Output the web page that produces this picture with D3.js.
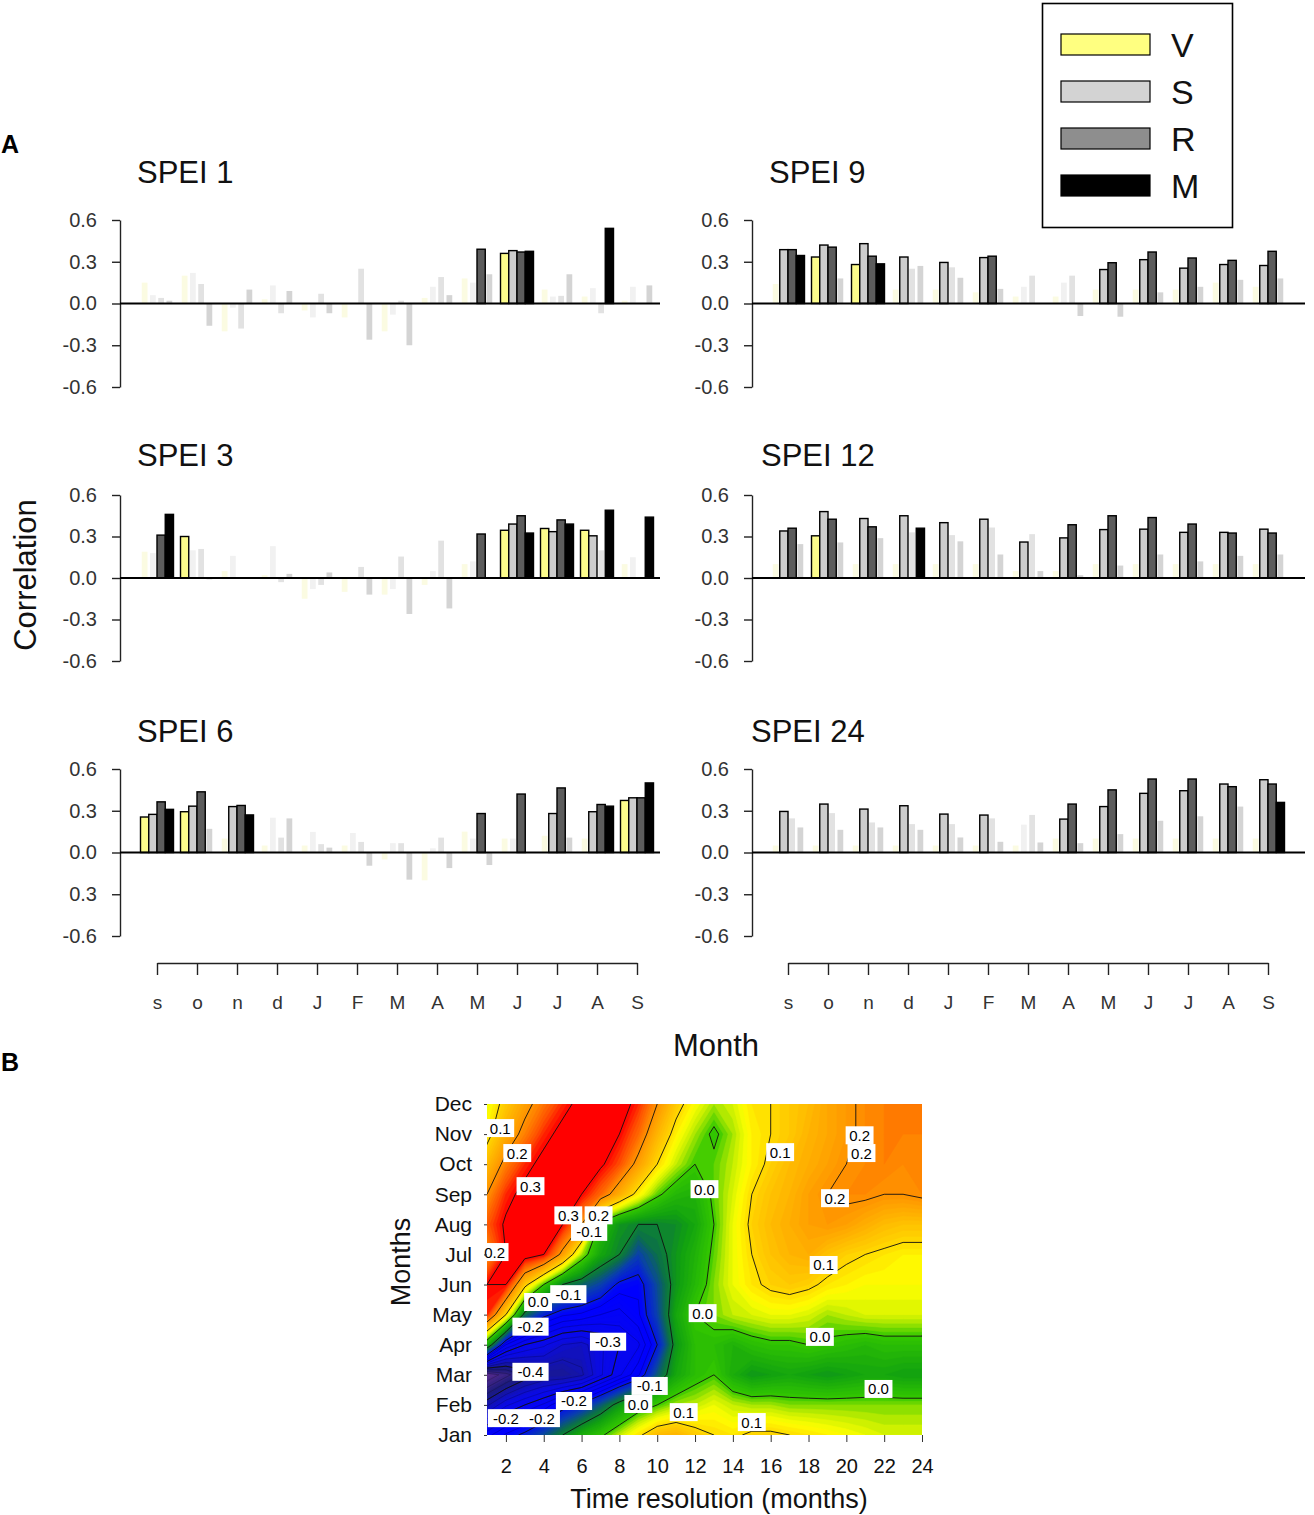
<!DOCTYPE html>
<html><head><meta charset="utf-8"><title>SPEI correlations</title>
<script src="https://cdn.jsdelivr.net/npm/d3@7"></script>
<style>
  body { margin: 0; background: #fff; }
  svg { font-family: 'Liberation Sans', Arial, Helvetica, sans-serif; }
</style>
</head>
<body>
<svg id="chart" width="1314" height="1515"></svg>
<script>
// ---- panel A data: correlation per month for V, S, R, M; sig = "1" drawn solid
const months = ["s","o","n","d","J","F","M","A","M","J","J","A","S"];
const seriesNames = ["V","S","R","M"];
const yTicks = [-0.6, -0.3, 0, 0.3, 0.6];
const yTickLabels = ["-0.6","-0.3","0.0","0.3","0.6"];
const yTickLabels6 = ["-0.6","0.3","0.0","0.3","0.6"];

const spei1V = [0.15, 0.2, -0.2, 0.03, -0.05, -0.1, -0.2, 0.04, 0.18, 0.36, 0.1, 0.05, 0.02];
const spei1S = [0.06, 0.22, -0.03, 0.13, -0.1, 0.0, -0.08, 0.12, 0.15, 0.38, 0.05, 0.11, 0.12];
const spei1R = [0.04, 0.14, -0.18, -0.07, 0.07, 0.25, 0.02, 0.19, 0.39, 0.37, 0.055, -0.07, 0.0];
const spei1M = [0.02, -0.16, 0.1, 0.09, -0.07, -0.26, -0.3, 0.06, 0.21, 0.375, 0.21, 0.54, 0.13];
const spei1Sig = ["0000000001000", "0000000001000", "0000000011000", "0000000001010"];

const spei3V = [0.19, 0.3, 0.05, 0.02, -0.15, -0.1, -0.12, -0.05, 0.1, 0.345, 0.358, 0.345, 0.1];
const spei3S = [0.18, 0.2, 0.16, 0.23, -0.08, 0.0, -0.08, 0.05, 0.12, 0.39, 0.335, 0.305, 0.15];
const spei3R = [0.31, 0.21, 0.0, -0.03, -0.05, 0.08, 0.155, 0.27, 0.318, 0.45, 0.42, 0.2, 0.0];
const spei3M = [0.46, -0.01, 0.0, 0.03, 0.04, -0.12, -0.26, -0.22, 0.0, 0.325, 0.39, 0.49, 0.44];
const spei3Sig = ["0100000001110", "0000000001110", "1000000011100", "1000000001111"];

const spei6V = [0.255, 0.293, 0.1, 0.05, 0.05, 0.05, -0.05, -0.2, 0.15, 0.1, 0.12, 0.1, 0.374];
const spei6S = [0.274, 0.333, 0.33, 0.25, 0.148, 0.14, 0.067, 0.03, 0.1, 0.1, 0.28, 0.293, 0.393];
const spei6R = [0.364, 0.436, 0.338, 0.107, 0.06, 0.076, 0.067, 0.107, 0.28, 0.42, 0.464, 0.345, 0.393];
const spei6M = [0.31, 0.17, 0.27, 0.245, 0.035, -0.095, -0.195, -0.112, -0.09, 0.0, 0.107, 0.333, 0.5];
const spei6Sig = ["1100000000001", "1110000000111", "1110000011111", "1010000000011"];

const spei9V = [0.14, 0.334, 0.28, 0.1, 0.1, 0.08, 0.05, 0.05, 0.1, 0.1, 0.1, 0.15, 0.12];
const spei9S = [0.387, 0.42, 0.43, 0.334, 0.295, 0.33, 0.12, 0.15, 0.244, 0.315, 0.254, 0.28, 0.273];
const spei9R = [0.387, 0.405, 0.34, 0.25, 0.26, 0.34, 0.2, 0.2, 0.293, 0.37, 0.327, 0.31, 0.375];
const spei9M = [0.345, 0.18, 0.285, 0.27, 0.185, 0.105, 0.0, -0.09, -0.095, 0.08, 0.12, 0.17, 0.18];
const spei9Sig = ["0110000000000", "1111110011111", "1110010011111", "1010000000000"];

const spei12V = [0.1, 0.305, 0.1, 0.1, 0.1, 0.1, 0.05, 0.05, 0.1, 0.1, 0.1, 0.1, 0.1];
const spei12S = [0.34, 0.48, 0.43, 0.45, 0.4, 0.425, 0.26, 0.29, 0.35, 0.353, 0.33, 0.33, 0.353];
const spei12R = [0.36, 0.425, 0.37, 0.33, 0.31, 0.365, 0.317, 0.385, 0.45, 0.437, 0.39, 0.325, 0.325];
const spei12M = [0.245, 0.257, 0.288, 0.36, 0.265, 0.17, 0.05, 0.02, 0.09, 0.17, 0.12, 0.16, 0.17];
const spei12Sig = ["0100000000000", "1111111111111", "1110000111111", "0001000000000"];

const spei24V = [0.05, 0.05, 0.05, 0.05, 0.05, 0.05, 0.05, 0.1, 0.1, 0.1, 0.1, 0.1, 0.1];
const spei24S = [0.295, 0.348, 0.312, 0.336, 0.276, 0.269, 0.2, 0.24, 0.33, 0.425, 0.444, 0.492, 0.523];
const spei24R = [0.245, 0.283, 0.216, 0.204, 0.204, 0.245, 0.27, 0.348, 0.45, 0.528, 0.528, 0.473, 0.492];
const spei24M = [0.18, 0.163, 0.18, 0.163, 0.108, 0.077, 0.072, 0.067, 0.132, 0.228, 0.26, 0.33, 0.36];
const spei24Sig = ["0000000000000", "1111110111111", "0000000111111", "0000000000001"];

// ---- panel B data: correlation by month (rows Jan..Dec) and time resolution 1..24
const monthNames = ["Jan","Feb","Mar","Apr","May","Jun","Jul","Aug","Sep","Oct","Nov","Dec"];
const resTicks = [2,4,6,8,10,12,14,16,18,20,22,24];
const gridJan = [-0.26,-0.22,-0.19,-0.15,-0.1,-0.05,-0.01,0.04,0.09,0.14,0.15,0.12,0.1,0.09,0.11,0.11,0.1,0.09,0.08,0.07,0.06,0.05,0.05,0.05];
const gridFeb = [-0.38,-0.33,-0.3,-0.27,-0.22,-0.19,-0.14,-0.08,-0.03,0.0,0.03,0.04,0.06,0.04,0.03,0.03,0.02,0.02,0.02,0.02,0.02,0.02,0.02,0.02];
const gridMar = [-0.5,-0.46,-0.42,-0.4,-0.4,-0.38,-0.33,-0.28,-0.23,-0.14,-0.06,-0.02,0.0,-0.05,-0.08,-0.07,-0.06,-0.07,-0.08,-0.07,-0.06,-0.06,-0.07,-0.07];
const gridApr = [-0.05,-0.25,-0.3,-0.32,-0.35,-0.36,-0.33,-0.3,-0.28,-0.2,-0.08,-0.02,-0.02,-0.04,-0.02,-0.01,-0.01,0.0,-0.01,-0.02,-0.03,-0.02,-0.02,-0.02];
const gridMay = [0.28,0.1,-0.12,-0.19,-0.22,-0.23,-0.25,-0.26,-0.23,-0.16,-0.06,0.0,0.02,0.04,0.05,0.06,0.06,0.05,0.03,0.04,0.05,0.05,0.05,0.05];
const gridJun = [0.3,0.3,0.12,0.0,-0.1,-0.13,-0.16,-0.21,-0.22,-0.15,-0.08,-0.03,0.02,0.06,0.09,0.11,0.12,0.11,0.09,0.08,0.07,0.07,0.07,0.07];
const gridJul = [0.2,0.3,0.33,0.3,0.18,0.03,-0.06,-0.1,-0.16,-0.12,-0.08,-0.04,0.01,0.06,0.1,0.13,0.15,0.16,0.13,0.11,0.1,0.09,0.08,0.08];
const gridAug = [0.25,0.31,0.34,0.33,0.3,0.2,-0.02,-0.08,-0.1,-0.1,-0.09,-0.06,0.0,0.06,0.11,0.14,0.16,0.18,0.19,0.18,0.16,0.14,0.13,0.13];
const gridSep = [0.2,0.28,0.32,0.34,0.34,0.3,0.24,0.16,0.08,0.01,-0.03,-0.04,0.01,0.05,0.1,0.13,0.15,0.18,0.2,0.21,0.21,0.2,0.2,0.21];
const gridOct = [0.14,0.22,0.28,0.32,0.34,0.34,0.31,0.26,0.18,0.1,0.04,0.0,0.01,0.04,0.08,0.11,0.14,0.16,0.18,0.2,0.21,0.22,0.21,0.21];
const gridNov = [0.08,0.16,0.22,0.28,0.32,0.34,0.34,0.3,0.24,0.15,0.08,0.03,-0.01,0.03,0.08,0.1,0.12,0.15,0.17,0.19,0.21,0.22,0.22,0.22];
const gridDec = [0.06,0.12,0.18,0.23,0.28,0.32,0.34,0.33,0.28,0.2,0.12,0.07,0.03,0.05,0.09,0.1,0.12,0.14,0.17,0.19,0.21,0.22,0.23,0.23];

const labelRes   = [1.7, 2.6, 3.3, 6.4, 6.9, 5.3, 1.4, 3.7, 5.3, 3.3, 7.4, 3.3, 5.6, 2.0, 3.9, 9.6, 9.0, 11.4, 15.0, 12.5, 16.5, 20.7, 20.8, 19.4, 18.8, 12.4, 18.6, 21.7];
const labelMonth = [11.2, 10.37, 9.27, 7.75, 8.3, 8.3, 7.08, 5.42, 5.68, 4.6, 4.1, 3.1, 2.13, 1.56, 1.56, 2.63, 2.03, 1.76, 1.43, 9.17, 10.4, 10.96, 10.37, 8.87, 6.65, 5.05, 4.26, 2.53];
const labelText  = ["0.1","0.2","0.3","-0.1","0.2","0.3","0.2","0.0","-0.1","-0.2","-0.3","-0.4","-0.2","-0.2","-0.2","-0.1","0.0","0.1","0.1","0.0","0.1","0.2","0.2","0.2","0.1","0.0","0.0","0.0"];

// ---- styling
const solidColor = {V: "#fcfc8c", S: "#cdcdcd", R: "#5c5c5c", M: "#000000"};
const fadedColor = {V: "#fbfbe2", S: "#f1f1f1", R: "#e2e2e2", M: "#d4d4d4"};
const legendColor = {V: "#ffff80", S: "#d3d3d3", R: "#8e8e8e", M: "#000000"};

const svg = d3.select("#chart");

const panels = [
  {title: "SPEI 1", col: 0, row: 0, titleX: 137, vals: [spei1V, spei1S, spei1R, spei1M], sig: spei1Sig, labels: yTickLabels},
  {title: "SPEI 3", col: 0, row: 1, titleX: 137, vals: [spei3V, spei3S, spei3R, spei3M], sig: spei3Sig, labels: yTickLabels},
  {title: "SPEI 6", col: 0, row: 2, titleX: 137, vals: [spei6V, spei6S, spei6R, spei6M], sig: spei6Sig, labels: yTickLabels6},
  {title: "SPEI 9", col: 1, row: 0, titleX: 769, vals: [spei9V, spei9S, spei9R, spei9M], sig: spei9Sig, labels: yTickLabels},
  {title: "SPEI 12", col: 1, row: 1, titleX: 761, vals: [spei12V, spei12S, spei12R, spei12M], sig: spei12Sig, labels: yTickLabels},
  {title: "SPEI 24", col: 1, row: 2, titleX: 751, vals: [spei24V, spei24S, spei24R, spei24M], sig: spei24Sig, labels: yTickLabels}
];
const colLayout = [{axis: 120, band: 137, zeroEnd: 660}, {axis: 752, band: 768, zeroEnd: 1305}];
const rowLayout = [{top: 220, bottom: 387, titleY: 183}, {top: 495, bottom: 661, titleY: 466}, {top: 769, bottom: 936, titleY: 742}];

panels.forEach(p => {
  const c = colLayout[p.col], r = rowLayout[p.row];
  const g = svg.append("g");
  const x = d3.scaleBand().domain(d3.range(months.length))
    .range([c.band, c.band + 520]).paddingInner(0.175).paddingOuter(0.0875);
  const xs = d3.scaleBand().domain(seriesNames).range([0, x.bandwidth()]);
  const y = d3.scaleLinear().domain([-0.6, 0.6]).range([r.bottom, r.top]);

  g.append("text").attr("x", p.titleX).attr("y", r.titleY)
    .attr("font-size", 31).attr("fill", "#111").text(p.title);

  const ax = g.append("g").attr("transform", `translate(${c.axis},0)`)
    .call(d3.axisLeft(y).tickValues(yTicks).tickFormat((d, i) => p.labels[i])
      .tickSize(8).tickSizeOuter(0).tickPadding(15));
  ax.selectAll("path,line").attr("stroke", "#222").attr("stroke-width", 1.4);
  ax.selectAll("text").attr("font-size", 20).attr("fill", "#333")
    .attr("font-family", "'Liberation Sans', Arial, sans-serif");

  const bars = [];
  seriesNames.forEach((s, k) => {
    p.vals[k].forEach((v, i) => bars.push({s, i, v, sig: p.sig[k][i] === "1"}));
  });
  const bw = xs.bandwidth();
  // faded (non-significant) first, then solid on top
  g.selectAll("rect.faded").data(bars.filter(b => !b.sig)).join("rect")
    .attr("class", "faded")
    .attr("x", b => x(b.i) + xs(b.s) + bw * 0.15)
    .attr("width", bw * 0.7)
    .attr("y", b => y(Math.max(0, b.v)))
    .attr("height", b => Math.abs(y(b.v) - y(0)))
    .attr("fill", b => fadedColor[b.s]);
  g.selectAll("rect.solid").data(bars.filter(b => b.sig)).join("rect")
    .attr("class", "solid")
    .attr("x", b => x(b.i) + xs(b.s))
    .attr("width", bw)
    .attr("y", b => y(Math.max(0, b.v)))
    .attr("height", b => Math.abs(y(b.v) - y(0)))
    .attr("fill", b => solidColor[b.s])
    .attr("stroke", "#000").attr("stroke-width", 1.4);

  g.append("line").attr("x1", c.axis).attr("x2", c.zeroEnd)
    .attr("y1", y(0)).attr("y2", y(0)).attr("stroke", "#000").attr("stroke-width", 1.8);

  if (p.row === 2) {
    const xm = d3.scalePoint().domain(d3.range(months.length))
      .range([c.band + 20, c.band + 500]);
    const mx = g.append("g").attr("transform", "translate(0,963)")
      .call(d3.axisBottom(xm).tickFormat(i => months[i]).tickSize(12).tickSizeOuter(0).tickPadding(21));
    mx.selectAll("path,line").attr("stroke", "#222").attr("stroke-width", 1.4);
    mx.selectAll("text").attr("font-size", 19).attr("fill", "#333")
      .attr("font-family", "'Liberation Sans', Arial, sans-serif");
  }
});

// labels of panel A
svg.append("text").attr("x", 1).attr("y", 153).attr("font-size", 25).attr("font-weight", "bold").text("A");
svg.append("text").attr("transform", "translate(36,575) rotate(-90)").attr("text-anchor", "middle")
  .attr("font-size", 31).attr("fill", "#111").text("Correlation");
svg.append("text").attr("x", 716).attr("y", 1056).attr("text-anchor", "middle")
  .attr("font-size", 31).attr("fill", "#111").text("Month");

// legend
const lg = svg.append("g");
lg.append("rect").attr("x", 1042.5).attr("y", 3.5).attr("width", 190).attr("height", 224)
  .attr("fill", "#fff").attr("stroke", "#000").attr("stroke-width", 1.6);
seriesNames.forEach((s, k) => {
  lg.append("rect").attr("x", 1061).attr("y", 34 + k * 47).attr("width", 89).attr("height", 21)
    .attr("fill", legendColor[s]).attr("stroke", "#000").attr("stroke-width", 1.2);
  lg.append("text").attr("x", 1171).attr("y", 57 + k * 47).attr("font-size", 34).attr("fill", "#111").text(s);
});

// ---- panel B: filled contour
svg.append("text").attr("x", 1).attr("y", 1071).attr("font-size", 25).attr("font-weight", "bold").text("B");

const grid = [gridJan, gridFeb, gridMar, gridApr, gridMay, gridJun, gridJul, gridAug, gridSep, gridOct, gridNov, gridDec];
const nx = 24, ny = 12;
const values = grid.flat();
const cx = d3.scaleLinear().domain([1, 24]).range([487, 922]);
const cy = d3.scaleLinear().domain([1, 12]).range([1435, 1104]);
const proj = d3.geoTransform({point(px, py) { this.stream.point(cx(px + 0.5), cy(py + 0.5)); }});
const path = d3.geoPath(proj);

const cStops = [-0.5, -0.42, -0.33, -0.22, -0.16, -0.12, -0.07, 0, 0.04, 0.07, 0.11, 0.16, 0.21, 0.26, 0.3];
const cColors = ["#5b2c8e", "#1c1c7c", "#0a0ae6", "#0000ff", "#0a3fae", "#0b6e4a", "#10a010", "#33c800",
                 "#c4ee00", "#ffff00", "#ffd000", "#ffae00", "#ff8c00", "#ff5000", "#ff0000"];
const color = d3.scaleLinear().domain(cStops).range(cColors).clamp(true);

svg.append("clipPath").attr("id", "plotClip").append("rect")
  .attr("x", cx(1)).attr("y", cy(12)).attr("width", cx(24) - cx(1)).attr("height", cy(1) - cy(12));
const cg = svg.append("g").attr("clip-path", "url(#plotClip)");

const fillStep = 0.01;
const fillLevels = d3.range(-0.6, 0.42, fillStep).map(v => Math.round(v * 1000) / 1000);
cg.append("rect").attr("x", cx(1)).attr("y", cy(12)).attr("width", cx(24) - cx(1))
  .attr("height", cy(1) - cy(12)).attr("fill", color(-0.6));
cg.selectAll("path.band").data(d3.contours().size([nx, ny]).thresholds(fillLevels)(values)).join("path")
  .attr("class", "band").attr("d", path)
  .attr("fill", d => color(d.value + fillStep / 2))
  .attr("stroke", d => color(d.value + fillStep / 2)).attr("stroke-width", 0.6);

// fine lines in the strongly negative area
const fineLevels = d3.range(-0.475, -0.2, 0.025).map(v => Math.round(v * 1000) / 1000);
cg.selectAll("path.fine").data(d3.contours().size([nx, ny]).thresholds(fineLevels)(values)).join("path")
  .attr("class", "fine").attr("d", path).attr("fill", "none")
  .attr("stroke", "#000").attr("stroke-opacity", 0.35).attr("stroke-width", 0.6);

const lineLevels = [-0.4, -0.3, -0.2, -0.1, 0, 0.1, 0.2, 0.3];
cg.selectAll("path.iso").data(d3.contours().size([nx, ny]).thresholds(lineLevels)(values)).join("path")
  .attr("class", "iso").attr("d", path).attr("fill", "none")
  .attr("stroke", "#111").attr("stroke-width", 0.9);

// contour labels
const lab = svg.append("g").attr("font-size", 15);
labelText.forEach((t, i) => {
  const gx = cx(labelRes[i]), gy = cy(labelMonth[i]);
  const w = t.length * 8.3 + 3;
  lab.append("rect").attr("x", gx - w / 2).attr("y", gy - 9).attr("width", w).attr("height", 18).attr("fill", "#fff");
  lab.append("text").attr("x", gx).attr("y", gy + 5.5).attr("text-anchor", "middle").attr("fill", "#000").text(t);
});

// axes of panel B
const bx = svg.append("g").attr("transform", `translate(0,${cy(1)})`)
  .call(d3.axisBottom(cx).tickValues(resTicks).tickSize(7).tickSizeOuter(0).tickPadding(17));
bx.select(".domain").remove();
bx.selectAll("line").attr("stroke", "#333");
bx.selectAll("text").attr("font-size", 20).attr("fill", "#111")
  .attr("font-family", "'Liberation Sans', Arial, sans-serif");

const by = svg.append("g").attr("transform", `translate(${cx(1)},0)`)
  .call(d3.axisLeft(cy).tickValues(d3.range(1, 13)).tickFormat(m => monthNames[m - 1])
    .tickSize(3).tickSizeOuter(0).tickPadding(12));
by.select(".domain").remove();
by.selectAll("line").attr("stroke", "#333");
by.selectAll("text").attr("font-size", 21).attr("fill", "#111")
  .attr("font-family", "'Liberation Sans', Arial, sans-serif");

svg.append("text").attr("x", 719).attr("y", 1508).attr("text-anchor", "middle")
  .attr("font-size", 27).attr("fill", "#111").text("Time resolution (months)");
svg.append("text").attr("transform", "translate(410,1262) rotate(-90)").attr("text-anchor", "middle")
  .attr("font-size", 27).attr("fill", "#111").text("Months");
</script>
</body></html>
